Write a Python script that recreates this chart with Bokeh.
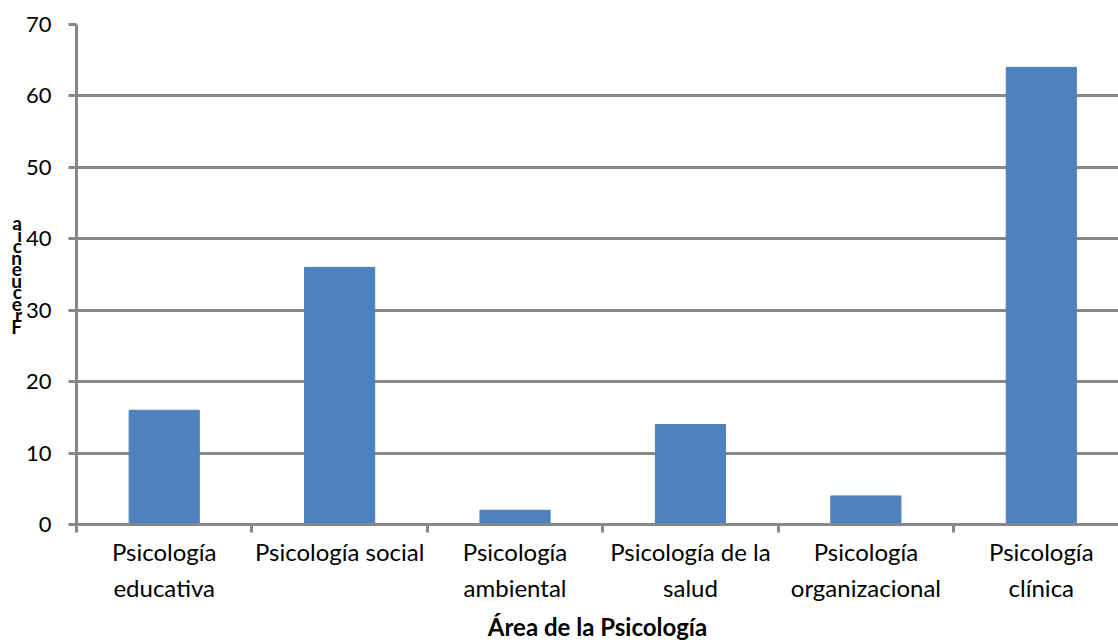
from bokeh.plotting import figure
from bokeh.models import Range1d, FixedTicker
from bokeh.embed import file_html
from bokeh.resources import INLINE

categories = ["Psicología\neducativa", "Psicología social", "Psicología\nambiental",
              "Psicología de la\nsalud", "Psicología\norganizacional", "Psicología\nclínica"]
values = [16, 36, 2, 14, 4, 64]
y_ticks = [0, 10, 20, 30, 40, 50, 60, 70]
x_title = "Área de la Psicología"
y_title = "Frecuencia"

GRAY = "#878787"
FONT = "Lato"

p = figure(width=1118, height=643, output_backend="svg", toolbar_location=None,
           x_range=Range1d(0, 5.94), y_range=Range1d(0, 70),
           min_border_left=76, min_border_top=24, min_border_right=0, min_border_bottom=119)
p.outline_line_color = None

xs = [i + 0.5 for i in range(len(categories))]
p.vbar(x=xs, top=values, width=0.4, color="#4F81BD")

# x axis
p.xaxis.ticker = FixedTicker(ticks=xs, minor_ticks=list(range(len(categories) + 1)))
p.xaxis.major_label_overrides = {x: c for x, c in zip(xs, categories)}
p.xaxis.major_tick_line_color = None
p.xaxis.minor_tick_line_color = GRAY
p.xaxis.minor_tick_line_width = 3
p.xaxis.minor_tick_out = 8
p.xaxis.minor_tick_in = 0
p.xaxis.axis_line_color = GRAY
p.xaxis.axis_line_width = 3
p.xaxis.major_label_text_font = FONT
p.xaxis.major_label_text_font_size = "24px"
p.xaxis.major_label_text_line_height = 1.25
p.xaxis.major_label_text_color = "black"
p.xaxis.major_label_standoff = 4
p.xaxis.axis_label = x_title
p.xaxis.axis_label_text_font = FONT
p.xaxis.axis_label_text_font_style = "bold"
p.xaxis.axis_label_text_font_size = "24px"
p.xaxis.axis_label_text_color = "black"
p.xaxis.axis_label_standoff = 7

# y axis
p.yaxis.ticker = FixedTicker(ticks=y_ticks)
p.yaxis.minor_tick_line_color = None
p.yaxis.major_tick_line_color = GRAY
p.yaxis.major_tick_line_width = 3
p.yaxis.major_tick_out = 8
p.yaxis.major_tick_in = 0
p.yaxis.axis_line_color = GRAY
p.yaxis.axis_line_width = 3
p.yaxis.major_label_text_font = FONT
p.yaxis.major_label_text_font_size = "22px"
p.yaxis.major_label_text_color = "black"
p.yaxis.major_label_standoff = 17
p.yaxis.axis_label = "\n".join(reversed(list(y_title)))
p.yaxis.axis_label_orientation = "horizontal"
p.yaxis.axis_label_text_font = FONT
p.yaxis.axis_label_text_font_style = "bold"
p.yaxis.axis_label_text_font_size = "19px"
p.yaxis.axis_label_text_line_height = 0.5
p.yaxis.axis_label_text_color = "black"
p.yaxis.axis_label_standoff = 1

p.xgrid.grid_line_color = None
p.ygrid.grid_line_color = GRAY
p.ygrid.grid_line_width = 3
p.ygrid.ticker = FixedTicker(ticks=y_ticks)

open("out.html", "w").write(file_html(p, INLINE))
